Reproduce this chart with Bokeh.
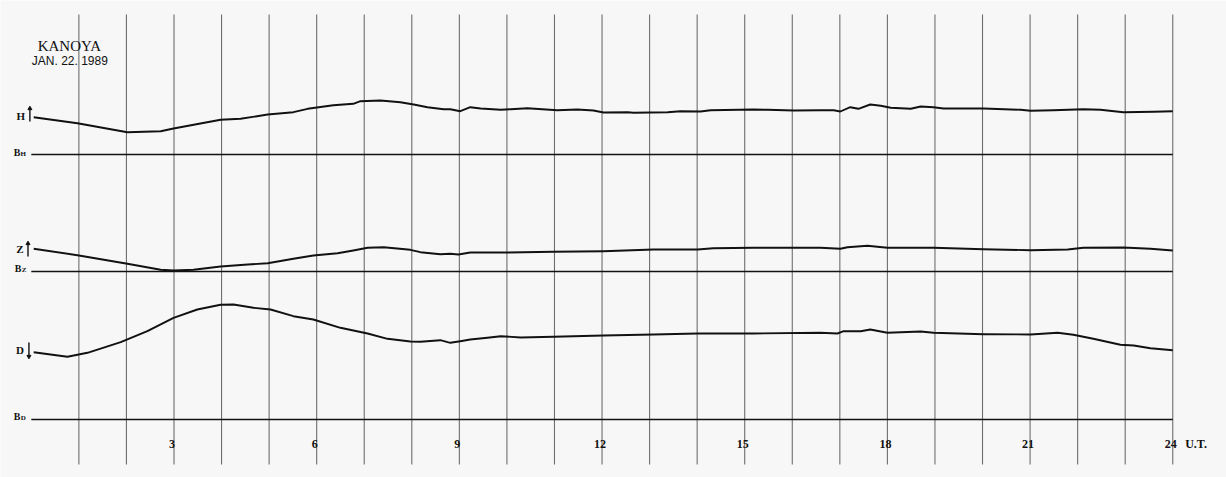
from bokeh.plotting import figure
from bokeh.models import Range1d
from bokeh.core.properties import value
from bokeh.embed import file_html
from bokeh.resources import INLINE

# ---- data: trace deflection above each baseline (chart units) vs hour U.T. ----
h_hours = [0.05, 0.97, 2.02, 2.72, 2.99, 3.98, 4.40, 4.97, 5.51, 5.81, 6.35, 6.77, 6.92, 7.34,
           7.76, 8.04, 8.33, 8.67, 8.81, 9.02, 9.23, 9.45, 9.87, 10.08, 10.43, 11.06, 11.48,
           11.82, 12.03, 12.54, 12.66, 13.38, 13.65, 14.07, 14.28, 15.19, 15.48, 16.03, 16.59,
           16.87, 17.01, 17.22, 17.39, 17.64, 17.86, 18.07, 18.49, 18.70, 18.97, 19.18, 20.02,
           20.80, 21.01, 21.49, 22.12, 22.48, 22.96, 23.60, 24.00]
h_vals = [37.3, 31.3, 22.3, 23.3, 26.0, 34.7, 35.7, 40.0, 42.3, 45.7, 49.3, 50.7, 53.3, 54.0,
          52.3, 50.0, 47.3, 45.3, 45.3, 43.3, 47.3, 46.0, 44.7, 45.3, 46.3, 44.3, 45.0,
          44.0, 42.0, 42.3, 41.7, 42.3, 43.3, 43.0, 44.3, 45.0, 44.7, 44.0, 44.3,
          44.3, 43.0, 47.3, 45.7, 50.0, 48.7, 46.7, 45.7, 48.0, 47.3, 46.0, 46.0,
          44.7, 43.7, 44.3, 45.3, 44.7, 42.3, 42.7, 43.3]

z_hours = [0.05, 0.97, 2.02, 2.72, 2.99, 3.41, 3.98, 4.55, 4.97, 5.51, 5.93, 6.44, 6.77, 7.07,
           7.41, 7.97, 8.18, 8.60, 8.81, 8.98, 9.23, 10.01, 10.98, 12.03, 13.08, 14.01, 14.34,
           15.19, 16.59, 17.01, 17.16, 17.58, 18.00, 18.97, 20.02, 21.01, 21.79, 22.12, 22.96,
           23.53, 24.00]
z_vals = [22.7, 16.3, 7.7, 1.7, 1.0, 1.7, 5.0, 7.0, 8.3, 12.7, 16.0, 18.3, 21.0, 23.7,
          24.3, 21.7, 19.3, 17.3, 17.7, 17.0, 19.0, 19.0, 19.7, 20.3, 22.0, 22.0, 23.3,
          23.7, 23.7, 22.7, 24.3, 25.7, 23.7, 23.7, 22.3, 21.3, 22.0, 23.7, 24.0,
          22.7, 21.0]

d_hours = [0.05, 0.76, 1.18, 1.88, 2.44, 2.99, 3.49, 3.98, 4.25, 4.67, 5.03, 5.51, 5.93, 6.50,
           7.07, 7.49, 7.97, 8.18, 8.60, 8.81, 9.02, 9.23, 9.59, 9.87, 10.29, 10.98, 12.03,
           13.08, 14.01, 15.19, 16.59, 16.95, 17.08, 17.44, 17.64, 18.00, 18.70, 18.97, 20.02,
           21.01, 21.58, 21.91, 22.33, 22.90, 23.18, 23.53, 24.00]
d_vals = [67.3, 62.7, 66.7, 77.3, 88.3, 101.7, 110.0, 114.7, 115.0, 111.7, 110.0, 103.3, 100.0, 91.7,
          86.0, 80.7, 78.0, 77.7, 79.3, 76.7, 78.3, 80.0, 81.7, 83.3, 82.0, 82.7, 84.0,
          85.0, 86.0, 86.0, 86.7, 86.0, 88.3, 88.3, 90.0, 86.7, 88.0, 86.7, 85.3,
          85.0, 86.7, 84.7, 80.7, 74.7, 74.0, 71.3, 69.3]

hour_lines = list(range(1, 25))
tick_hours = [3, 6, 9, 12, 15, 18, 21, 24]
tick_labels = ["3", "6", "9", "12", "15", "18", "21", "24"]

# ---- layout constants (chart vertical positions, top = small) ----
BASE_H, BASE_Z, BASE_D = 154, 271, 419
BG = "#f7f7f7"
SERIF = value("Liberation Serif")

p = figure(width=1226, height=477, x_range=Range1d(-0.648, 25.13), y_range=Range1d(477, 0),
           output_backend="svg", toolbar_location=None, min_border=0,
           x_axis_type=None, y_axis_type=None)
p.grid.visible = False
p.outline_line_color = None
p.background_fill_color = BG
p.border_fill_color = BG

# hour lines
p.segment(x0=hour_lines, y0=[14] * len(hour_lines), x1=hour_lines, y1=[464] * len(hour_lines),
          line_color="#6e6e6e", line_width=1.1)

# baselines
for b in (BASE_H, BASE_Z, BASE_D):
    p.line([0, 24], [b, b], line_color="#111111", line_width=1.6)

# traces
for hrs, vals, base in ((h_hours, h_vals, BASE_H), (z_hours, z_vals, BASE_Z), (d_hours, d_vals, BASE_D)):
    p.line(hrs, [base - v for v in vals], line_color="#111111", line_width=1.9, line_join="round")

# scale bars next to H, Z, D
p.segment(x0=[-0.03, -0.07, -0.05], y0=[107, 242, 342], x1=[-0.03, -0.07, -0.05], y1=[121, 256, 357],
          line_color="#111111", line_width=1.4)
p.scatter(x=[-0.03, -0.07], y=[108, 243], marker="triangle", size=4, color="#111111")
p.scatter(x=[-0.05], y=[356], marker="inverted_triangle", size=4, color="#111111")

# component labels
p.text(x=[-0.22, -0.24, -0.24], y=[115, 248, 349], text=["H", "Z", "D"], text_font=SERIF,
       text_font_style="bold", text_font_size="11px", text_align="center", text_baseline="middle",
       text_color="#111111")
p.text(x=[-0.30, -0.28, -0.30], y=[152, 268, 416], text=["B", "B", "B"], text_font=SERIF,
       text_font_style="bold", text_font_size="10px", text_align="center", text_baseline="middle",
       text_color="#111111")
p.text(x=[-0.17, -0.15, -0.17], y=[153, 269, 417], text=["H", "Z", "D"], text_font=SERIF,
       text_font_style="bold", text_font_size="7px", text_align="center", text_baseline="middle",
       text_color="#111111")

# title
p.text(x=[0.80], y=[45], text=["KANOYA"], text_font=SERIF, text_font_size="15px",
       text_align="center", text_baseline="middle", text_color="#111111")
p.text(x=[0.81], y=[60], text=["JAN. 22. 1989"], text_font=value("Liberation Sans"),
       text_font_size="12px", text_align="center", text_baseline="middle", text_color="#111111")

# hour tick labels
p.text(x=tick_hours, y=[443] * len(tick_hours), text=tick_labels, text_font=SERIF,
       text_font_style="bold", text_font_size="12px", text_align="center", text_baseline="middle",
       text_color="#111111", x_offset=-2)
p.text(x=[24.49], y=[443], text=["U.T."], text_font=SERIF, text_font_style="bold",
       text_font_size="12px", text_align="center", text_baseline="middle", text_color="#111111")

open("out.html", "w").write(file_html(p, INLINE))
